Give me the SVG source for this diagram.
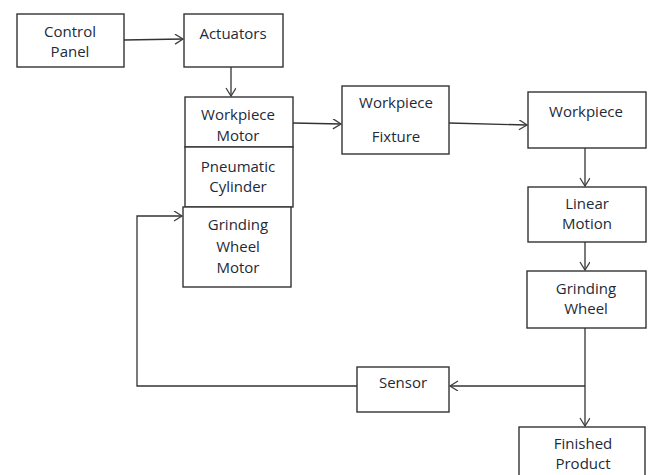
<svg xmlns="http://www.w3.org/2000/svg" width="651" height="475" viewBox="0 0 651 475">
<defs>
<marker id="arr" markerWidth="12" markerHeight="12" refX="9" refY="5" orient="auto" markerUnits="userSpaceOnUse">
<path d="M1,0 L9,5 L1,10" fill="none" stroke="#404040" stroke-width="1.3"/>
</marker>
<style>
rect{fill:#fff;stroke:#333;stroke-width:1.4}
text{font-family:"Open Sans","Liberation Sans",sans-serif;font-size:15px;fill:#1e2a38;text-anchor:middle}
.c{fill:none;stroke:#333;stroke-width:1.3}
</style>
</defs>
<rect x="0" y="0" width="651" height="475" style="fill:#fff;stroke:none"/>
<g id="connectors">
<path class="c" d="M124,40 L183,39" marker-end="url(#arr)"/>
<path class="c" d="M231,67 L231,96" marker-end="url(#arr)"/>
<path class="c" d="M293,123 L341,124" marker-end="url(#arr)"/>
<path class="c" d="M449,123 L527,125" marker-end="url(#arr)"/>
<path class="c" d="M585,148 L585,186" marker-end="url(#arr)"/>
<path class="c" d="M585,242 L585,270" marker-end="url(#arr)"/>
<path class="c" d="M585,328 L585,426" marker-end="url(#arr)"/>
<path class="c" d="M585,386 L450,386" marker-end="url(#arr)"/>
<path class="c" d="M357,386 L137,386 L137,216 L182,216" marker-end="url(#arr)"/>
</g>
<g id="control-panel"><rect x="17" y="14" width="107" height="53"/><text x="70" y="37">Control</text><text x="70" y="57">Panel</text></g>
<g id="actuators"><rect x="184" y="14" width="99" height="53"/><text x="233" y="39">Actuators</text></g>
<g id="workpiece-motor"><rect x="185" y="97" width="108" height="50"/><text x="238" y="120">Workpiece</text><text x="238" y="141">Motor</text></g>
<g id="pneumatic-cylinder"><rect x="185" y="147" width="108" height="60"/><text x="238" y="172">Pneumatic</text><text x="238" y="192">Cylinder</text></g>
<g id="grinding-wheel-motor"><rect x="183" y="207" width="108" height="80"/><text x="238" y="230">Grinding</text><text x="238" y="252">Wheel</text><text x="238" y="273">Motor</text></g>
<g id="workpiece-fixture"><rect x="342" y="86" width="107" height="68"/><text x="396" y="108">Workpiece</text><text x="396" y="142">Fixture</text></g>
<g id="workpiece"><rect x="528" y="92" width="118" height="56"/><text x="586" y="117">Workpiece</text></g>
<g id="linear-motion"><rect x="528" y="187" width="118" height="55"/><text x="587" y="209">Linear</text><text x="587" y="229">Motion</text></g>
<g id="grinding-wheel"><rect x="527" y="271" width="119" height="57"/><text x="586" y="294">Grinding</text><text x="586" y="314">Wheel</text></g>
<g id="sensor"><rect x="357" y="367" width="92" height="45"/><text x="403" y="388">Sensor</text></g>
<g id="finished-product"><rect x="519" y="427" width="126" height="60"/><text x="583" y="449">Finished</text><text x="583" y="469">Product</text></g>
</svg>
